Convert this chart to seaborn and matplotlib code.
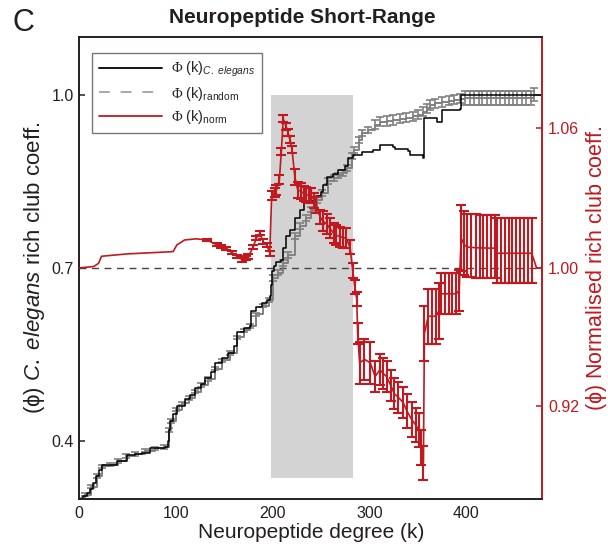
import numpy as np
import pandas as pd
import matplotlib
matplotlib.use("Agg")
import matplotlib.pyplot as plt
import seaborn as sns
from matplotlib.lines import Line2D
from matplotlib.patches import Rectangle

# ---------------- data ----------------
k_obs = [0, 4, 8, 11, 14, 17, 20, 23, 36, 39, 49, 58, 65, 73, 89, 92, 93, 94, 97, 101,
         109, 115, 120, 126, 130, 136, 140, 148, 154, 160, 163, 170, 177, 178, 183, 189,
         194, 197, 198, 199, 201, 204, 209, 211, 214, 218, 223, 228, 232, 240, 245, 250,
         252, 256, 262, 268, 275, 278, 283, 292, 304, 311, 325, 327, 340, 342, 356, 357,
         368, 370, 374, 375, 394, 395, 478]
phi_obs = [0.301, 0.306, 0.311, 0.318, 0.328, 0.340, 0.350, 0.360, 0.360, 0.366, 0.377,
           0.379, 0.380, 0.389, 0.390, 0.400, 0.420, 0.435, 0.448, 0.461, 0.474, 0.480,
           0.493, 0.500, 0.510, 0.520, 0.536, 0.545, 0.553, 0.565, 0.590, 0.596, 0.599,
           0.625, 0.633, 0.640, 0.645, 0.651, 0.670, 0.694, 0.703, 0.711, 0.714, 0.735,
           0.755, 0.766, 0.786, 0.801, 0.812, 0.815, 0.824, 0.832, 0.844, 0.858, 0.862,
           0.870, 0.876, 0.890, 0.896, 0.901, 0.904, 0.913, 0.909, 0.905, 0.902, 0.896,
           0.890, 0.959, 0.959, 0.953, 0.953, 0.974, 0.975, 1.000, 1.000]

k_rand = [0, 6, 12, 18, 24, 32, 40, 48, 58, 68, 78, 88, 93, 95, 100, 106, 113, 120, 126,
          133, 140, 148, 156, 163, 170, 177, 183, 190, 196, 200, 206, 211, 216, 223, 228,
          235, 240, 246, 251, 257, 263, 268, 273, 277, 282, 284, 289, 292, 299, 306, 311,
          318, 325, 332, 338, 345, 350, 356, 360, 363, 368, 375, 382, 388, 394, 399, 404,
          408, 413, 417, 422, 426, 431, 435, 440, 444, 449, 453, 458, 462, 467, 470, 478]
phi_rand = [0.300, 0.308, 0.322, 0.340, 0.357, 0.360, 0.366, 0.375, 0.378, 0.384, 0.388,
            0.390, 0.420, 0.435, 0.455, 0.466, 0.475, 0.486, 0.498, 0.508, 0.526, 0.540,
            0.553, 0.580, 0.592, 0.600, 0.620, 0.635, 0.645, 0.683, 0.692, 0.709, 0.723,
            0.755, 0.772, 0.786, 0.801, 0.818, 0.830, 0.850, 0.856, 0.860, 0.864, 0.873,
            0.893, 0.904, 0.921, 0.933, 0.939, 0.948, 0.953, 0.954, 0.956, 0.958, 0.960,
            0.962, 0.965, 0.970, 0.976, 0.982, 0.985, 0.987, 0.989, 0.991, 0.993, 0.994,
            0.994, 0.994, 0.994, 0.994, 0.994, 0.994, 0.994, 0.994, 0.994, 0.994, 0.994,
            0.994, 0.994, 0.994, 0.994, 1.000, 1.000]
err_rand = [0.003] * 29 + [0.005] * 20 + [0.008] * 16 + [0.012] * 17 + [0.0]

k_norm = [0, 15, 20, 23, 49, 97, 101, 109, 121, 132, 142, 147, 152, 158, 163, 168, 172,
          175, 180, 183, 187, 190, 194, 197, 199, 202, 204, 207, 209, 211, 214, 216, 218,
          220, 223, 226, 229, 232, 235, 238, 240, 243, 245, 249, 252, 256, 259, 263, 266,
          270, 273, 276, 280, 283, 285, 287, 288, 290, 295, 301, 306, 311, 314, 318, 322,
          326, 330, 335, 339, 344, 348, 351, 354, 356, 357, 361, 365, 369, 372, 374, 378,
          382, 386, 390, 393, 395, 398, 401, 405, 410, 414, 418, 422, 426, 430, 432, 436,
          440, 444, 448, 452, 456, 460, 464, 468, 473, 478]
phi_norm = [1.000, 1.0006, 1.002, 1.005, 1.006, 1.007, 1.0099, 1.012, 1.0125, 1.012,
            1.010, 1.0092, 1.0085, 1.0065, 1.005, 1.0037, 1.0042, 1.005, 1.009, 1.0128,
            1.015, 1.0113, 1.0099, 1.0063, 1.031, 1.0325, 1.0335, 1.038, 1.050, 1.064,
            1.0607, 1.058, 1.055, 1.051, 1.039, 1.0335, 1.033, 1.032, 1.0315, 1.031,
            1.031, 1.029, 1.027, 1.022, 1.020, 1.019, 1.017, 1.015, 1.014, 1.0134, 1.013,
            1.0128, 1.009, 0.998, 0.989, 0.982, 0.962, 0.945, 0.947, 0.945, 0.937, 0.941,
            0.939, 0.937, 0.932, 0.927, 0.925, 0.922, 0.917, 0.912, 0.909, 0.906, 0.896,
            0.887, 0.962, 0.972, 0.972, 0.972, 0.975, 0.985, 0.985, 0.985, 0.985, 0.985,
            0.987, 1.0128, 1.010, 1.009, 1.0088, 1.0087, 1.0086, 1.0086, 1.0085, 1.0085,
            1.0085, 1.0063, 1.0063, 1.0063, 1.0063, 1.0063, 1.0063, 1.0063, 1.0063,
            1.0063, 1.0063, 1.000, 1.000]
err_norm = ([0.0] * 9          # k 0-121
            + [0.0006] * 6     # k 132-163
            + [0.0010] * 9     # k 168-197
            + [0.002] * 4      # k 199-207
            + [0.0015] * 6     # k 209-220
            + [0.0033] * 9     # k 223-245
            + [0.003]          # k 249
            + [0.0043] * 8     # k 252-276
            + [0.003]          # k 280
            + [0.004] * 3      # k 283-287
            + [0.006]          # k 288
            + [0.012] * 3      # k 290-301
            + [0.009] * 4      # k 306-318
            + [0.009] * 4      # k 322-335
            + [0.010] * 6      # k 339-356
            + [0.016] * 5      # k 357-372
            + [0.012] * 6      # k 374-393
            + [0.0143] * 10    # k 395-430
            + [0.0153] * 10    # k 432-468
            + [0.0] * 2)       # k 473-478

x_ticks = [0, 100, 200, 300, 400]
left_ticks = [0.4, 0.7, 1.0]
left_tick_labels = ["0.4", "0.7", "1.0"]
right_ticks = [0.92, 1.00, 1.06]
right_tick_labels = ["0.92", "1.00", "1.06"]
highlight_k = (198, 283)
highlight_phi = (0.337, 1.0)
reference_phi = 0.7

# ---------------- style ----------------
sns.set_theme(style="white")
plt.rcParams["font.family"] = ["Liberation Sans", "DejaVu Sans"]
plt.rcParams["mathtext.fontset"] = "custom"
plt.rcParams["mathtext.rm"] = "Liberation Serif"
plt.rcParams["mathtext.it"] = "Liberation Sans:italic"
plt.rcParams["mathtext.sf"] = "Liberation Sans"

DARK = "#231f20"
RED = "#c1191f"
GREY = "#808080"

fig = plt.figure(figsize=(6.08, 5.45), dpi=100)
ax = fig.add_axes([0.1304, 0.0839, 0.7616, 0.8488])
ax2 = ax.twinx()

# highlight band
ax.add_patch(Rectangle((highlight_k[0], highlight_phi[0]),
                       highlight_k[1] - highlight_k[0],
                       highlight_phi[1] - highlight_phi[0],
                       facecolor="#d3d3d3", edgecolor="none", zorder=0))
ax.axhline(reference_phi, color="#444444", lw=1.0, dashes=(5, 4), zorder=1)

df_obs = pd.DataFrame({"k": k_obs, "phi": phi_obs})
df_rand = pd.DataFrame({"k": k_rand, "phi": phi_rand, "err": err_rand})
df_norm = pd.DataFrame({"k": k_norm, "phi": phi_norm, "err": err_norm})

sns.lineplot(data=df_rand, x="k", y="phi", ax=ax, color=GREY, lw=1.4,
             drawstyle="steps-post", estimator=None, sort=False, zorder=2)
eb = df_rand[df_rand.err > 0]
ax.errorbar(eb.k, eb.phi, yerr=eb.err, fmt="none", ecolor=GREY, elinewidth=1.2,
            capsize=3, capthick=1.2, zorder=2)
sns.lineplot(data=df_obs, x="k", y="phi", ax=ax, color="black", lw=1.1,
             drawstyle="steps-post", estimator=None, sort=False, zorder=3)

# right axis: normalised coefficient (tick spacing as printed in the figure)
def fwd(v):
    v = np.asarray(v, dtype=float)
    return np.where(v >= 1, (v - 1) / 0.06 * 139.7, (v - 1) / 0.08 * 138.0)

def inv(p):
    p = np.asarray(p, dtype=float)
    return np.where(p >= 0, 1 + p / 139.7 * 0.06, 1 + p / 138.0 * 0.08)

ax2.set_yscale("function", functions=(fwd, inv))
sns.lineplot(data=df_norm, x="k", y="phi", ax=ax2, color=RED, lw=1.2,
             estimator=None, sort=False, zorder=3)
ebn = df_norm[df_norm.err > 0]
ax2.errorbar(ebn.k, ebn.phi, yerr=ebn.err, fmt="none", ecolor=RED, elinewidth=1.5,
             capsize=3.5, capthick=1.5, zorder=3)

# axes limits / ticks
ax.set_xlim(0, 479)
ax.set_ylim(0.30, 1.10)
ax2.set_ylim(0.8659, 1.0993)
ax.set_xticks(x_ticks)
ax.set_xticklabels([str(t) for t in x_ticks])
ax.set_yticks(left_ticks)
ax.set_yticklabels(left_tick_labels)
ax2.set_yticks(right_ticks)
ax2.set_yticklabels(right_tick_labels)
ax2.minorticks_off()

ax.tick_params(axis="both", direction="in", length=4, width=1.1, colors=DARK,
               labelsize=11.5, pad=4)
ax.tick_params(axis="x", pad=5)
ax2.tick_params(axis="y", direction="in", length=4, width=1.1, colors=RED,
                labelsize=11.5, pad=4)

for s in ["left", "bottom", "top"]:
    ax.spines[s].set_color(DARK)
    ax.spines[s].set_linewidth(1.2)
    ax2.spines[s].set_color(DARK)
    ax2.spines[s].set_linewidth(1.2)
ax2.spines["right"].set_color(RED)
ax2.spines["right"].set_linewidth(1.4)
ax.spines["right"].set_visible(False)

ax.set_xlabel("Neuropeptide degree (k)", fontsize=15, color=DARK, labelpad=1)
ax.set_ylabel(r"($\mathsf{\phi}$) $\mathit{C.\ elegans}$ rich club coeff.",
              fontsize=16, color=DARK)
ax.yaxis.set_label_coords(-0.070, 0.5)
ax2.set_ylabel(r"($\mathsf{\phi}$) Normalised rich club coeff.", fontsize=15.5,
               color=RED, rotation=90)
ax2.yaxis.set_label_coords(1.090, 0.5)

handles = [Line2D([], [], color="black", lw=1.3),
           Line2D([], [], color="#a0a0a0", lw=1.3, dashes=(6, 6)),
           Line2D([], [], color=RED, lw=1.3)]
labels = [r"$\Phi$ (k)$_{\mathit{C.\ elegans}}$",
          r"$\Phi$ (k)$_{\mathsf{random}}$",
          r"$\Phi$ (k)$_{\mathsf{norm}}$"]
leg = ax2.legend(handles, labels, loc="upper left", bbox_to_anchor=(0.027, 0.965),
                 frameon=True, fancybox=False, edgecolor="#555555", fontsize=10.5,
                 handlelength=4.3, borderaxespad=0, borderpad=0.5, labelspacing=0.35,
                 handletextpad=0.6)
leg.get_frame().set_linewidth(1.0)
leg.set_zorder(10)

fig.text(0.497, 0.967, "Neuropeptide Short-Range", ha="center", va="center",
         fontsize=15, fontweight="bold", color=DARK)
fig.text(0.02, 0.958, "C", ha="left", va="center", fontsize=22, color=DARK)

fig.savefig("out.png", dpi=100)
